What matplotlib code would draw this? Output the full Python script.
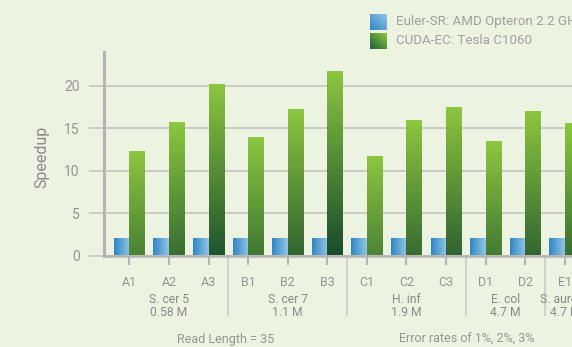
import numpy as np
import matplotlib
matplotlib.use("Agg")
import matplotlib.pyplot as plt
import matplotlib.transforms as mtransforms
from matplotlib.colors import to_rgb

# speedup per dataset / error-rate combination
categories = ["A1", "A2", "A3", "B1", "B2", "B3", "C1", "C2", "C3", "D1", "D2", "E1"]
euler_sr = [2.0, 2.0, 2.0, 2.0, 2.0, 2.0, 2.0, 2.0, 2.0, 2.0, 2.0, 2.0]
cuda_ec = [12.2, 15.6, 20.1, 13.9, 17.2, 21.6, 11.6, 15.9, 17.4, 13.4, 16.9, 15.5]

group_names = ["S. cer 5", "S. cer 7", "H. inf", "E. col", "S. aureus"]
group_sizes = ["0.58 M", "1.1 M", "1.9 M", "4.7 M", "4.7 M"]
group_counts = [3, 3, 3, 2, 1]

series_labels = ["Euler-SR: AMD Opteron 2.2 GHz", "CUDA-EC: Tesla C1060"]

plt.rcParams["font.family"] = ["Roboto", "DejaVu Sans"]

bg = "#edf3e1"
axis_gray = "#b4b4b4"
grid_gray = "#c0c0c0"
text_gray = "#959595"
label_gray = "#8a8a8a"

blue_dark, blue_light = np.array(to_rgb("#2f86c4")), np.array(to_rgb("#92c5e7"))
green_light, green_dark = np.array(to_rgb("#8dc63f")), np.array(to_rgb("#164a2c"))


def blend(c0, c1, t):
    t = np.asarray(t)[..., None]
    return (1 - t) * c0 + t * c1


def vertical_green(height, depth=22.0, n=200):
    # colour depends on distance from the top of the bar
    y = np.linspace(0, height, n)
    t = np.clip((height - y) / depth, 0, 1)
    return blend(green_light, green_dark, t)[:, None, :]


def horizontal_blue(n=50):
    return blend(blue_dark, blue_light, np.linspace(0, 1, n))[None, :, :]


W, H = 572, 347
fig = plt.figure(figsize=(W / 100, H / 100), dpi=100, facecolor=bg)
ax = fig.add_axes([104 / W, 91.5 / H, 1 - 104 / W, 203.5 / H])
ax.set_facecolor(bg)

x = np.arange(len(categories))
width = 0.39
blue_bars = ax.bar(x - width, euler_sr, width, align="edge", color="none", zorder=2)
green_bars = ax.bar(x, cuda_ec, width, align="edge", color="none", zorder=2)

for p in blue_bars:
    x0, h = p.get_x(), p.get_height()
    ax.imshow(horizontal_blue(), extent=[x0, x0 + p.get_width(), 0, h],
              origin="lower", aspect="auto", zorder=2, interpolation="bilinear")
for p in green_bars:
    x0, h = p.get_x(), p.get_height()
    ax.imshow(vertical_green(h), extent=[x0, x0 + p.get_width(), 0, h],
              origin="lower", aspect="auto", zorder=2, interpolation="bilinear")

ax.set_xlim(-0.64, 11.18)
ax.set_ylim(0, 24)
ax.set_yticks([0, 5, 10, 15, 20])
ax.set_xticks(x)
ax.set_xticklabels([])
ax.yaxis.grid(True, color=grid_gray, linewidth=1.1)
ax.set_axisbelow(True)

for s in ["top", "right"]:
    ax.spines[s].set_visible(False)
ax.spines["left"].set_color(axis_gray)
ax.spines["left"].set_linewidth(2.2)
ax.spines["bottom"].set_color(axis_gray)
ax.spines["bottom"].set_linewidth(1.8)
ax.spines["bottom"].set_zorder(3)

ax.tick_params(axis="y", length=11, width=1.1, color=grid_gray, pad=6.5,
               labelsize=10, labelcolor=text_gray)
ax.tick_params(axis="x", length=6.5, width=1.5, color=axis_gray)

trans = mtransforms.blended_transform_factory(ax.transData, ax.transAxes)

# category labels
for xi, lab in zip(x, categories):
    ax.text(xi, -0.135, lab, transform=trans, ha="center", va="center",
            fontsize=9, color=text_gray, clip_on=False)

# group labels and separators
start = 0
for i, (name, size, n) in enumerate(zip(group_names, group_sizes, group_counts)):
    center = start + (n - 1) / 2
    ax.text(center, -0.218, name, transform=trans, ha="center", va="center",
            fontsize=8.7, color=label_gray, clip_on=False)
    ax.text(center, -0.281, size, transform=trans, ha="center", va="center",
            fontsize=8.7, color=label_gray, clip_on=False)
    start += n
    if i < len(group_counts) - 1:
        ax.plot([start - 0.5, start - 0.5], [0, -0.29], transform=trans,
                color="#c9c9c9", linewidth=1.1, clip_on=False, zorder=1)

ax.text(2.42, -0.411, "Read Length = 35", transform=trans, ha="center", va="center",
        fontsize=9, color=text_gray, clip_on=False)
ax.text(8.52, -0.411, "Error rates of 1%, 2%, 3%", transform=trans, ha="center",
        va="center", fontsize=9, color=text_gray, clip_on=False)

fig.text(42 / W, 1 - 157 / H, "Speedup", rotation=90, ha="center", va="center",
         fontsize=11.5, color=label_gray)

# legend swatches with diagonal gradients
t = np.linspace(0, 1, 30)
tt = (t[None, :] + t[:, None]) / 2
blue_sw = fig.add_axes([370 / W, 1 - 30 / H, 16 / W, 16 / H])
blue_sw.imshow(blend(blue_dark, blue_light, tt), origin="lower", aspect="auto")
blue_sw.axis("off")
green_sw = fig.add_axes([370 / W, 1 - 49 / H, 16 / W, 16 / H])
green_sw.imshow(blend(green_dark * 1.3, green_light, tt).clip(0, 1),
                origin="lower", aspect="auto")
green_sw.axis("off")

for yy, lab in zip([22, 41], series_labels):
    fig.text(396 / W, 1 - yy / H, lab, ha="left", va="center", fontsize=9.6,
             color="#a0a0a0")

fig.savefig("out.png", dpi=100, facecolor=bg)
